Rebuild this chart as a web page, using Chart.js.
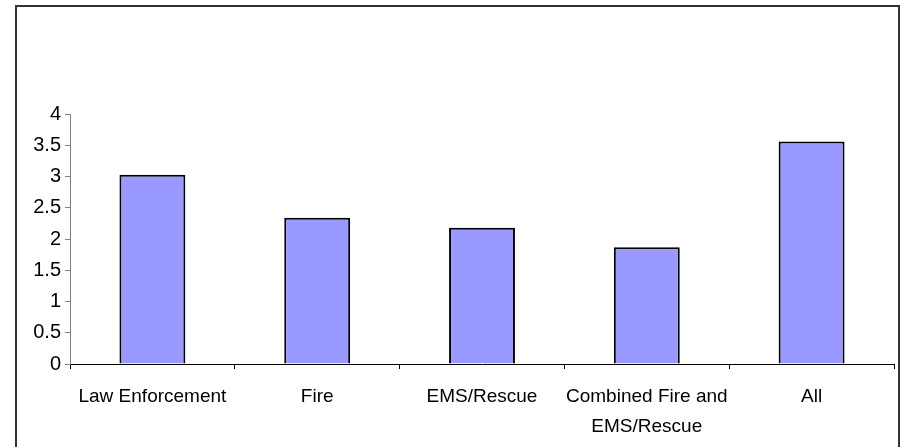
<!DOCTYPE html>
<html>
<head>
<meta charset="utf-8">
<script src="https://cdn.jsdelivr.net/npm/chart.js@4.4.0/dist/chart.umd.min.js"></script>
<style>
  html, body { margin: 0; padding: 0; background: #fff; }
  #wrap { width: 901px; height: 447px; position: relative; }
</style>
</head>
<body>
<div id="wrap"><canvas id="barChart" width="901" height="447"></canvas></div>
<script>
// categories and values
const categories = ['Law Enforcement', 'Fire', 'EMS/Rescue', ['Combined Fire and', 'EMS/Rescue'], 'All'];
const values = [3.03, 2.34, 2.18, 1.87, 3.56];
const yTicks = [0, 0.5, 1, 1.5, 2, 2.5, 3, 3.5, 4];

// outer frame like the spreadsheet chart border
const framePlugin = {
  id: 'frame',
  beforeDraw(chart) {
    const c = chart.ctx;
    c.save();
    c.strokeStyle = '#333';
    c.lineWidth = 2;
    c.strokeRect(16, 6, 883, 460);
    c.restore();
  }
};

const ctx = document.getElementById('barChart').getContext('2d');
new Chart(ctx, {
  type: 'bar',
  data: {
    labels: categories,
    datasets: [{
      data: values,
      backgroundColor: '#9999FF',
      borderColor: '#000',
      borderWidth: 2,
      categoryPercentage: 1,
      barPercentage: 0.4
    }]
  },
  options: {
    responsive: false,
    animation: false,
    layout: { padding: { left: 16, right: 7, top: 114, bottom: 0 } },
    plugins: {
      legend: { display: false },
      tooltip: { enabled: false }
    },
    scales: {
      x: {
        afterFit: function(scale) { scale.height = 83; },
        grid: {
          offset: true,
          drawOnChartArea: false,
          drawTicks: true,
          tickLength: 5,
          color: '#000'
        },
        border: { color: '#000', width: 1 },
        ticks: {
          color: '#000',
          padding: 13,
          maxRotation: 0,
          autoSkip: false,
          font: { family: 'Arial, "Liberation Sans", sans-serif', size: 19, lineHeight: 1.58 }
        }
      },
      y: {
        min: 0,
        max: 4,
        afterFit: function(scale) { scale.width = 54; },
        afterBuildTicks: function(scale) { scale.ticks = yTicks.map(v => ({ value: v })); },
        grid: {
          drawOnChartArea: false,
          drawTicks: true,
          tickLength: 5,
          color: '#808080'
        },
        border: { color: '#808080', width: 1 },
        ticks: {
          color: '#000',
          padding: 4,
          callback: function(value) { return String(value); },
          font: { family: 'Arial, "Liberation Sans", sans-serif', size: 20 }
        }
      }
    }
  },
  plugins: [framePlugin]
});
</script>
</body>
</html>
